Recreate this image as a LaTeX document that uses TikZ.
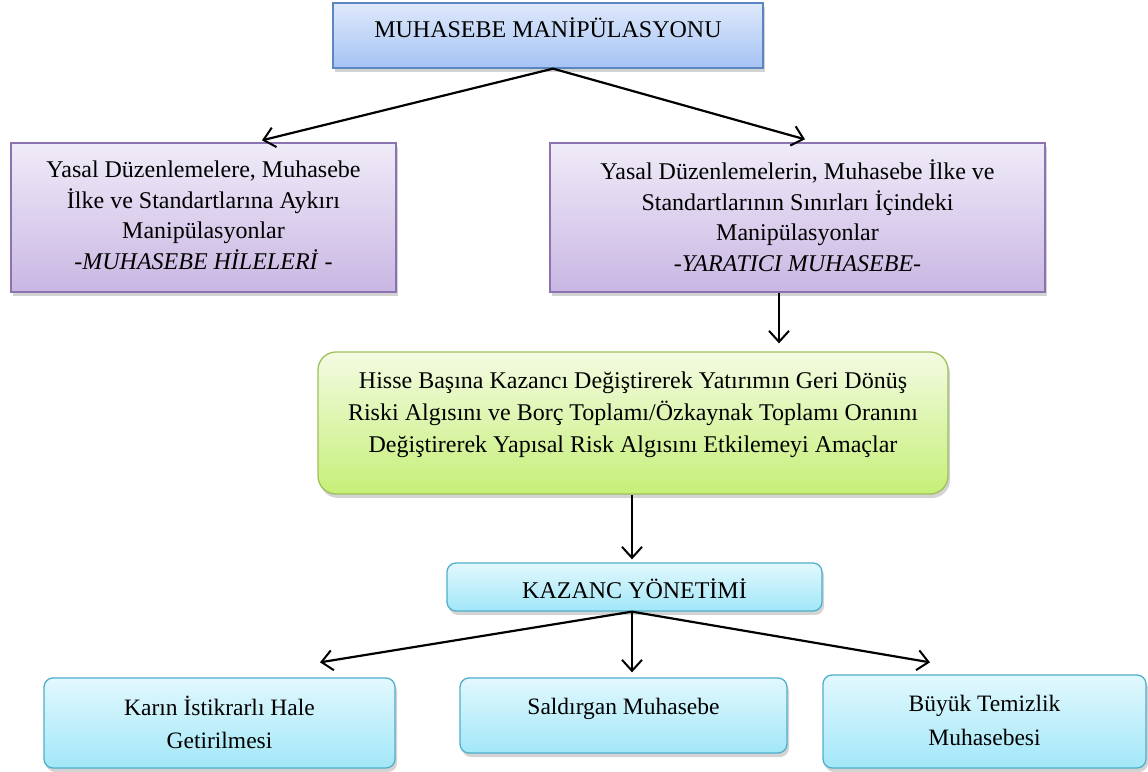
\documentclass[tikz,border=0pt]{standalone}
\usepackage{fontspec}
\setmainfont{Liberation Serif}
\usetikzlibrary{arrows.meta,shadows}
\definecolor{bluetop}{HTML}{DFE9FB}
\definecolor{bluebot}{HTML}{A5C3F4}
\definecolor{blueline}{HTML}{5B86C2}
\definecolor{purptop}{HTML}{F0EBF8}
\definecolor{purpbot}{HTML}{C9B7E3}
\definecolor{purpline}{HTML}{8B72B0}
\definecolor{greentop}{HTML}{F3FBE2}
\definecolor{greenbot}{HTML}{C6EF78}
\definecolor{greenline}{HTML}{9DC05A}
\definecolor{cyantop}{HTML}{E2F8FD}
\definecolor{cyanbot}{HTML}{A2E7F8}
\definecolor{cyanline}{HTML}{4FAFCB}
\tikzset{
  boxbase/.style={draw, line width=1.3pt, inner sep=0pt,
    drop shadow={shadow xshift=2pt, shadow yshift=-4pt, opacity=0.35}},
  bluebox/.style={boxbase, draw=blueline, top color=bluetop, bottom color=bluebot},
  purpbox/.style={boxbase, draw=purpline, top color=purptop, bottom color=purpbot},
  greenbox/.style={boxbase, draw=greenline, top color=greentop, bottom color=greenbot, rounded corners=18pt},
  cyanbox/.style={boxbase, draw=cyanline, top color=cyantop, bottom color=cyanbot, rounded corners=9pt},
  txt/.style={align=center, inner sep=0pt, font=\fontsize{24}{30.5}\selectfont},
  arr/.style={line width=2.2pt, -{Straight Barb[length=11pt,width=20pt,line width=2pt]}}
}
\begin{document}
\begin{tikzpicture}[x=1pt,y=1pt]
\useasboundingbox (0,0) rectangle (1148,771);
% boxes
\node[bluebox, minimum width=430pt, minimum height=65pt] (top) at (548,735.5) {};
\node[txt] (toptxt) at (548,743) {MUHASEBE MANİPÜLASYONU};

\node[purpbox, minimum width=385pt, minimum height=149pt] (left) at (203.5,553.5) {};
\node[txt] (lefttxt) at (203.5,555.5) {Yasal Düzenlemelere, Muhasebe\\İlke ve Standartlarına Aykırı\\Manipülasyonlar\\-\textit{MUHASEBE HİLELERİ} -};

\node[purpbox, minimum width=495pt, minimum height=149pt] (right) at (797.5,553.5) {};
\node[txt] (righttxt) at (797.5,555.5) {Yasal Düzenlemelerin, Muhasebe İlke ve\\Standartlarının Sınırları İçindeki\\Manipülasyonlar\\-\textit{YARATICI MUHASEBE}-};

\node[greenbox, minimum width=630pt, minimum height=142pt] (green) at (633,348) {};
\node[txt, font=\fontsize{24}{32}\selectfont] (greentxt) at (633,356) {Hisse Başına Kazancı Değiştirerek Yatırımın Geri Dönüş\\Riski Algısını ve Borç Toplamı/Özkaynak Toplamı Oranını\\Değiştirerek Yapısal Risk Algısını Etkilemeyi Amaçlar};

\node[cyanbox, minimum width=375pt, minimum height=48pt] (kaz) at (634.5,184) {};
\node[txt] (kaztxt) at (634.5,182) {KAZANC YÖNETİMİ};

\node[cyanbox, minimum width=351pt, minimum height=90pt] (b1) at (219.5,48) {};
\node[txt, font=\fontsize{23.5}{33}\selectfont] (b1txt) at (219.5,49) {Karın İstikrarlı Hale\\Getirilmesi};

\node[cyanbox, minimum width=327pt, minimum height=75pt] (b2) at (623.5,55.5) {};
\node[txt, font=\fontsize{23.5}{33}\selectfont] (b2txt) at (623.5,62) {Saldırgan Muhasebe};

\node[cyanbox, minimum width=323pt, minimum height=93pt] (b3) at (984.5,49.5) {};
\node[txt, font=\fontsize{23.5}{34}\selectfont] (b3txt) at (984.5,51) {Büyük Temizlik\\Muhasebesi};

% connectors
\coordinate (topo) at ([xshift=5pt]top.south);
\draw[arr] (topo) -- ([xshift=58.5pt,yshift=2pt]left.north);
\draw[arr] (topo) -- ([xshift=7.5pt,yshift=3pt]right.north);
\draw[arr] ([xshift=-18.5pt]right.south) -- ([xshift=146pt,yshift=8pt]green.north);
\draw[arr] ([xshift=-1pt]green.south) -- ([xshift=-2.5pt,yshift=3pt]kaz.north);
\coordinate (kazo) at ([xshift=-2.5pt]kaz.south);
\draw[arr] (kazo) -- ([xshift=100.5pt,yshift=15pt]b1.north);
\draw[arr] (kazo) -- ([xshift=8.5pt,yshift=5pt]b2.north);
\draw[arr] (kazo) -- ([xshift=-54.5pt,yshift=12pt]b3.north);
\end{tikzpicture}
\end{document}
